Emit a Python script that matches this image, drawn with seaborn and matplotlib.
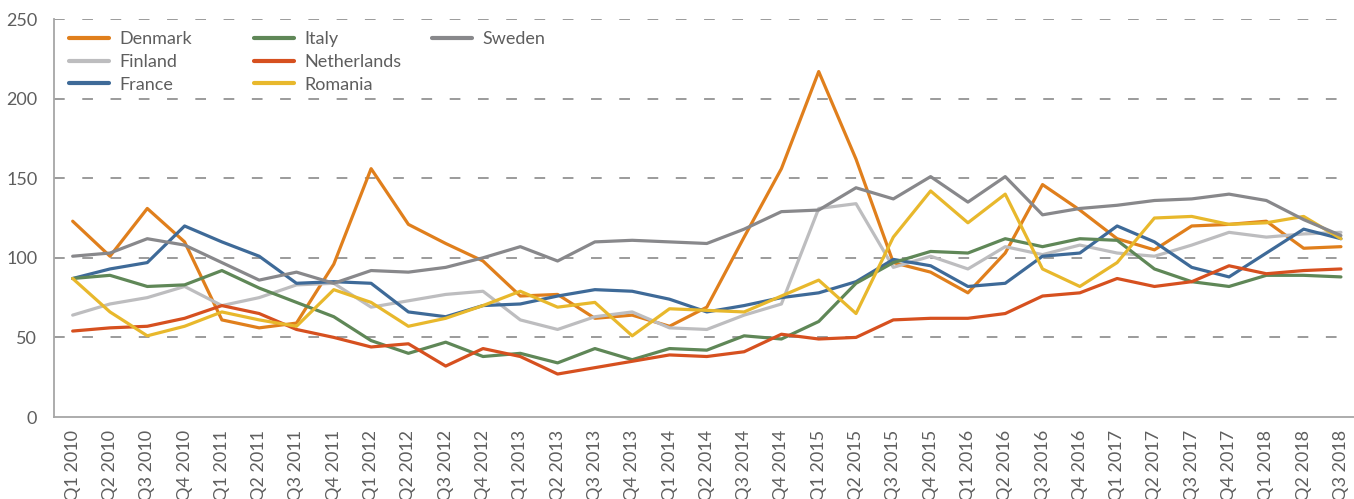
import matplotlib
matplotlib.use("Agg")
import matplotlib.pyplot as plt
from matplotlib.lines import Line2D
from matplotlib.legend import Legend
import seaborn as sns
import pandas as pd

quarters = [f"Q{q} {y}" for y in range(2010, 2019) for q in range(1, 5)][:35]

denmark = [123, 101, 131, 110, 61, 56, 59, 96, 156, 121, 109, 98, 76, 77, 62, 64, 57, 69,
           113, 156, 217, 162, 97, 91, 78, 103, 146, 130, 112, 105, 120, 121, 123, 106, 107]
finland = [64, 71, 75, 82, 70, 75, 83, 84, 69, 73, 77, 79, 61, 55, 63, 66, 56, 55,
           64, 71, 131, 134, 94, 101, 93, 107, 102, 108, 103, 101, 108, 116, 113, 115, 116]
france = [87, 93, 97, 120, 110, 101, 84, 85, 84, 66, 63, 70, 71, 76, 80, 79, 74, 66,
          70, 75, 78, 85, 99, 95, 82, 84, 101, 103, 120, 110, 94, 88, 103, 118, 112]
italy = [87, 89, 82, 83, 92, 81, 72, 63, 48, 40, 47, 38, 40, 34, 43, 36, 43, 42,
         51, 49, 60, 84, 97, 104, 103, 112, 107, 112, 111, 93, 85, 82, 89, 89, 88]
netherlands = [54, 56, 57, 62, 70, 65, 55, 50, 44, 46, 32, 43, 38, 27, 31, 35, 39, 38,
               41, 52, 49, 50, 61, 62, 62, 65, 76, 78, 87, 82, 85, 95, 90, 92, 93]
romania = [87, 66, 51, 57, 66, 61, 57, 80, 72, 57, 62, 70, 79, 69, 72, 51, 68, 67,
           66, 76, 86, 65, 113, 142, 122, 140, 93, 82, 97, 125, 126, 121, 122, 126, 112]
sweden = [101, 103, 112, 108, 97, 86, 91, 84, 92, 91, 94, 100, 107, 98, 110, 111, 110, 109,
          118, 129, 130, 144, 137, 151, 135, 151, 127, 131, 133, 136, 137, 140, 136, 124, 114]

countries = ["Denmark", "Finland", "France", "Italy", "Netherlands", "Romania", "Sweden"]
colors = {
    "Denmark": "#E07F1C",
    "Finland": "#BDBDBF",
    "France": "#3E6A98",
    "Italy": "#5F8757",
    "Netherlands": "#D6501F",
    "Romania": "#E8B82C",
    "Sweden": "#88888B",
}

series = [denmark, finland, france, italy, netherlands, romania, sweden]
df = pd.concat([
    pd.DataFrame({"idx": range(len(quarters)), "value": vals, "country": name})
    for name, vals in zip(countries, series)
])

sns.set_style("white")
plt.rcParams["font.family"] = ["Lato", "DejaVu Sans"]
text_col = "#5E5E5E"

fig = plt.figure(figsize=(13.54, 4.99), dpi=100)
ax = fig.add_axes([0.0399, 0.1643, 0.9601, 0.7976])

sns.lineplot(data=df, x="idx", y="value", hue="country", hue_order=countries,
             palette=colors, linewidth=2.3, ax=ax, legend=False, sort=False)

ax.set_ylim(0, 250)
ax.set_xlim(-0.5, 34.35)
ax.set_yticks([0, 50, 100, 150, 200, 250])
ax.set_xticks(range(len(quarters)))
ax.set_xticklabels(quarters, rotation=90)
ax.tick_params(axis="both", length=0, labelsize=13, labelcolor=text_col)
ax.tick_params(axis="y", pad=12)
ax.tick_params(axis="x", pad=9)
for y in [50, 100, 150, 200, 250]:
    ax.axhline(y, color="#808080", linewidth=1.1, linestyle=(0, (7, 11.5)), zorder=0)

sns.despine(ax=ax, top=True, right=True)
ax.spines["left"].set_color("#A6A6A6")
ax.spines["bottom"].set_color("#A6A6A6")
ax.spines["left"].set_linewidth(1.3)
ax.spines["bottom"].set_linewidth(1.3)
ax.set_xlabel("")
ax.set_ylabel("")

# legend in three columns, placed like the original
legend_cols = [(["Denmark", "Finland", "France"], 69),
               (["Italy", "Netherlands", "Romania"], 254),
               (["Sweden"], 432)]
for names, xpix in legend_cols:
    handles = [Line2D([], [], color=colors[c], linewidth=3, solid_capstyle="round") for c in names]
    leg = Legend(ax, handles, names, loc="upper left",
                 bbox_to_anchor=(xpix / 1354, 1 - 31 / 499), bbox_transform=fig.transFigure,
                 frameon=False, fontsize=13, handlelength=2.2, handletextpad=0.6,
                 labelspacing=0.38, borderpad=0, borderaxespad=0)
    for t in leg.get_texts():
        t.set_color(text_col)
    ax.add_artist(leg)

plt.savefig("out.png", dpi=100)
